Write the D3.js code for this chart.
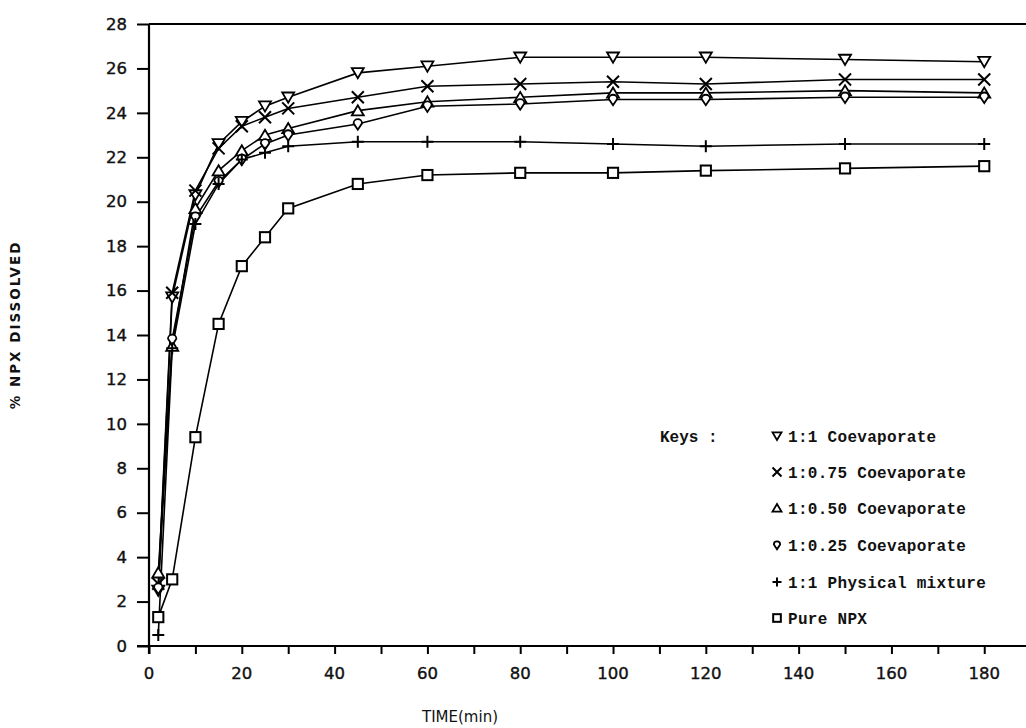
<!DOCTYPE html>
<html>
<head>
<meta charset="utf-8">
<script src="https://d3js.org/d3.v7.min.js"></script>
<style>
  body { margin: 0; background: #fff; }
  svg { display: block; }
</style>
</head>
<body>
<div id="container"></div>
<script>
  // sampling times (min)
  var times = [2, 5, 10, 15, 20, 25, 30, 45, 60, 80, 100, 120, 150, 180];

  // % NPX dissolved
  var coev100 = [2.5, 15.7, 20.3, 22.6, 23.6, 24.3, 24.7, 25.8, 26.1, 26.5, 26.5, 26.5, 26.4, 26.3];
  var coev075 = [2.8, 15.9, 20.5, 22.4, 23.4, 23.8, 24.2, 24.7, 25.2, 25.3, 25.4, 25.3, 25.5, 25.5];
  var coev050 = [3.3, 13.5, 19.7, 21.4, 22.3, 23.0, 23.3, 24.1, 24.5, 24.7, 24.9, 24.9, 25.0, 24.9];
  var coev025 = [2.6, 13.8, 19.3, 20.9, 21.9, 22.6, 23.0, 23.5, 24.3, 24.4, 24.6, 24.6, 24.7, 24.7];
  var physmix = [0.5, 13.4, 19.0, 20.8, 21.9, 22.2, 22.5, 22.7, 22.7, 22.7, 22.6, 22.5, 22.6, 22.6];
  var pureNpx = [1.3, 3.0, 9.4, 14.5, 17.1, 18.4, 19.7, 20.8, 21.2, 21.3, 21.3, 21.4, 21.5, 21.6];

  var seriesNames = ["1:1 Coevaporate", "1:0.75 Coevaporate", "1:0.50 Coevaporate",
                     "1:0.25 Coevaporate", "1:1 Physical mixture", "Pure NPX"];
  var seriesValues = [coev100, coev075, coev050, coev025, physmix, pureNpx];
  var seriesMarks = ["tridown", "cross", "triup", "drop", "plus", "square"];

  var xTicks = d3.range(0, 181, 20);
  var xMinor = d3.range(0, 190, 10);
  var yTicks = d3.range(0, 29, 2);

  // svg dimensions
  width = 1026
  height = 728

  var svg = d3.select("#container").append("svg")
    .attr("width", width)
    .attr("height", height);

  var x = d3.scaleLinear().domain([0, 189]).range([149, 1026]);
  var y = d3.scaleLinear().domain([0, 28]).range([646, 24]);

  var labelFont = "DejaVu Sans, sans-serif";
  var keyFont = "Liberation Mono, Courier New, monospace";

  // x axis: minor ticks every 10, labels every 20
  var xAxis = svg.append("g")
    .attr("transform", "translate(0," + y(0) + ")")
    .call(d3.axisBottom(x).tickValues(xMinor).tickSize(8).tickFormat(""));
  xAxis.select(".domain").remove();
  xAxis.selectAll(".tick line").attr("stroke", "#000").attr("stroke-width", 2);

  svg.append("g").selectAll("text")
    .data(xTicks)
    .join("text")
    .attr("x", d => x(d))
    .attr("y", 679)
    .attr("text-anchor", "middle")
    .attr("font-family", labelFont)
    .attr("font-size", 16.5)
    .attr("stroke", "#111")
    .attr("stroke-width", 0.4)
    .attr("fill", "#111")
    .text(d => d);

  svg.append("line")
    .attr("x1", 137).attr("x2", width)
    .attr("y1", y(0)).attr("y2", y(0))
    .attr("stroke", "#000").attr("stroke-width", 2.2);

  // y axis
  var yAxis = svg.append("g")
    .attr("transform", "translate(" + x(0) + ",0)")
    .call(d3.axisLeft(y).tickValues(yTicks).tickSize(12).tickPadding(10));
  yAxis.select(".domain").remove();
  yAxis.selectAll(".tick line").attr("stroke", "#000").attr("stroke-width", 2);
  yAxis.selectAll(".tick text")
    .attr("font-family", labelFont)
    .attr("font-size", 16.5)
    .attr("stroke", "#111")
    .attr("stroke-width", 0.4)
    .attr("fill", "#111");

  svg.append("line")
    .attr("x1", x(0)).attr("x2", x(0))
    .attr("y1", y(28)).attr("y2", y(0) + 8)
    .attr("stroke", "#000").attr("stroke-width", 2.2);

  // top frame
  svg.append("line")
    .attr("x1", x(0)).attr("x2", width)
    .attr("y1", y(28)).attr("y2", y(28))
    .attr("stroke", "#000").attr("stroke-width", 2.2);

  // axis titles
  svg.append("text")
    .attr("x", 460)
    .attr("y", 722)
    .attr("text-anchor", "middle")
    .attr("font-family", labelFont)
    .attr("font-size", 15)
    .attr("fill", "#111")
    .text("TIME(min)");

  svg.append("text")
    .attr("transform", "translate(20,325) rotate(-90)")
    .attr("text-anchor", "middle")
    .attr("font-family", labelFont)
    .attr("font-size", 13.5)
    .attr("font-weight", "bold")
    .attr("letter-spacing", 2)
    .attr("fill", "#111")
    .text("% NPX DISSOLVED");

  // marker drawing
  function drawMark(g, kind, cx, cy, s) {
      var m = g.append("g").attr("transform", "translate(" + cx + "," + cy + ")");
      if (kind == "tridown") {
          m.append("path").attr("d", "M" + (-s) + "," + (-s * 0.8) + "L" + s + "," + (-s * 0.8) + "L0," + (s * 0.9) + "Z")
            .attr("fill", "#fff").attr("stroke", "#000").attr("stroke-width", 1.8);
      } else if (kind == "triup") {
          m.append("path").attr("d", "M" + (-s) + "," + (s * 0.8) + "L" + s + "," + (s * 0.8) + "L0," + (-s * 0.9) + "Z")
            .attr("fill", "#fff").attr("stroke", "#000").attr("stroke-width", 1.8);
      } else if (kind == "cross") {
          m.append("path").attr("d", "M" + (-s) + "," + (-s) + "L" + s + "," + s + "M" + s + "," + (-s) + "L" + (-s) + "," + s)
            .attr("stroke", "#000").attr("stroke-width", 2);
      } else if (kind == "plus") {
          m.append("path").attr("d", "M" + (-s) + ",0L" + s + ",0M0," + (-s) + "L0," + s)
            .attr("stroke", "#000").attr("stroke-width", 2);
      } else if (kind == "square") {
          m.append("rect").attr("x", -s * 0.85).attr("y", -s * 0.85).attr("width", s * 1.7).attr("height", s * 1.7)
            .attr("fill", "#fff").attr("stroke", "#000").attr("stroke-width", 2);
      } else if (kind == "drop") {
          m.append("path").attr("d", "M0," + (s * 0.95) + "L" + (-s * 0.7) + "," + (-s * 0.1) +
              "A" + (s * 0.7) + "," + (s * 0.7) + " 0 1 1 " + (s * 0.7) + "," + (-s * 0.1) + "Z")
            .attr("fill", "#fff").attr("stroke", "#000").attr("stroke-width", 1.8);
      }
  }

  var line = d3.line()
    .x((d, i) => x(times[i]))
    .y(d => y(d));

  seriesValues.forEach(function(vals, k) {
      svg.append("path")
        .datum(vals)
        .attr("d", line)
        .attr("fill", "none")
        .attr("stroke", "#000")
        .attr("stroke-width", 1.6);
  });

  seriesValues.forEach(function(vals, k) {
      var g = svg.append("g");
      vals.forEach(function(v, i) {
          drawMark(g, seriesMarks[k], x(times[i]), y(v), 6);
      });
  });

  // legend
  var keyRows = [436, 472, 508, 545, 582, 618];
  svg.append("text")
    .attr("x", 660)
    .attr("y", keyRows[0])
    .attr("dy", "0.35em")
    .attr("font-family", keyFont)
    .attr("font-size", 16)
    .attr("font-weight", "bold")
    .attr("fill", "#111")
    .text("Keys :");

  var legend = svg.append("g");
  seriesNames.forEach(function(name, k) {
      drawMark(legend, seriesMarks[k], 777, keyRows[k], 4.5);
      legend.append("text")
        .attr("x", 788)
        .attr("y", keyRows[k])
        .attr("dy", "0.35em")
        .attr("font-family", keyFont)
        .attr("font-size", 16)
        .attr("font-weight", "bold")
        .attr("letter-spacing", 0.3)
        .attr("fill", "#111")
        .text(name);
  });
</script>
</body>
</html>
